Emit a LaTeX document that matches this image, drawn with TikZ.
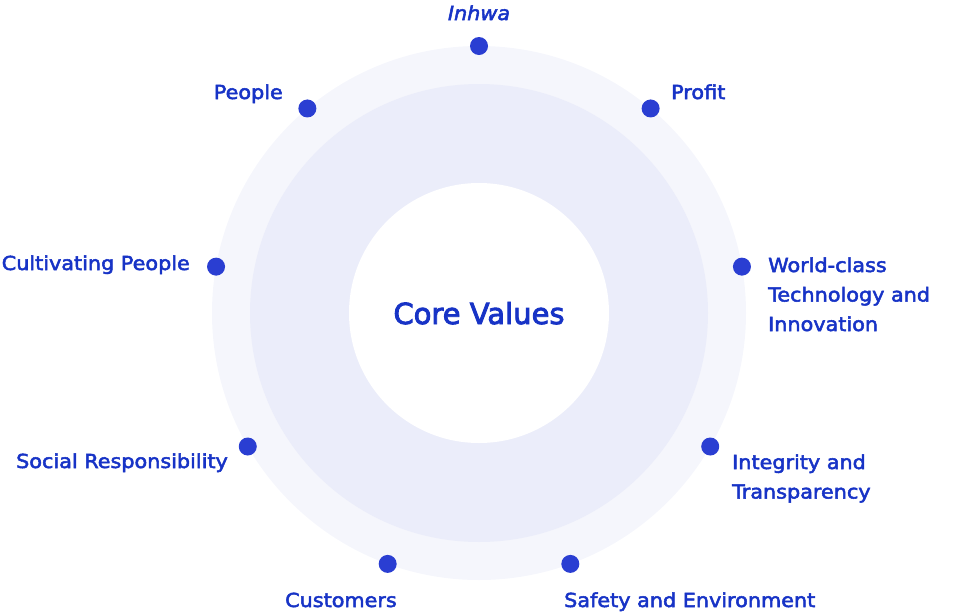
\documentclass[tikz,border=0pt]{standalone}
\usepackage{fontspec}
\setmainfont{DejaVu Sans}[FakeStretch=1.075,FakeBold=2.6]
\newfontfamily\titlefont{DejaVu Sans}[FakeBold=3]
\definecolor{txtblue}{HTML}{1733C6}
\definecolor{dotblue}{HTML}{2A3ED2}
\definecolor{ringout}{HTML}{F5F6FC}
\definecolor{ringin}{HTML}{EBEDFA}
\newcommand{\stacklines}[1]{\vtop{\baselineskip=29.5pt\lineskiplimit=-20pt #1}}
\tikzset{
  dotmark/.style={circle,fill=dotblue,inner sep=0pt,minimum size=18pt},
  lbl/.style={inner sep=0pt,text=txtblue,font=\fontsize{19.3}{23}\selectfont},
}
\begin{document}
\begin{tikzpicture}[x=1pt,y=-1pt]
\useasboundingbox (0,0) rectangle (962,614);
\fill[ringout] (479,313) circle[radius=267];
\fill[ringin] (479,313) circle[radius=229];
\fill[white] (479,313) circle[radius=130];
\node[inner sep=0pt,text=txtblue,font=\titlefont\fontsize{29}{34}\selectfont,anchor=base] (core) at (479,324) {Core Values};
\foreach \a/\n in {0/d0,40/d1,80/d2,120/d3,160/d4,200/d5,240/d6,280/d7,320/d8}
  \node[dotmark] (\n) at ({479+267*sin(\a)},{313-267*cos(\a)}) {};
\node[lbl,anchor=base] (l0) at (479,20) {\itshape Inhwa};
\node[lbl,anchor=base west] (l1) at (671,99) {Profit};
\node[lbl,anchor=base west] (l2) at (768,272) {\stacklines{\hbox{World-class}\hbox{Technology and}\hbox{Innovation}}};
\node[lbl,anchor=base west] (l3) at (732,469) {\stacklines{\hbox{Integrity and}\hbox{Transparency}}};
\node[lbl,anchor=base west] (l4) at (564,607) {Safety and Environment};
\node[lbl,anchor=base west] (l5) at (285,607) {Customers};
\node[lbl,anchor=base east] (l6) at (228,468) {Social Responsibility};
\node[lbl,anchor=base east] (l7) at (190,270) {Cultivating People};
\node[lbl,anchor=base east] (l8) at (283,99) {People};
\end{tikzpicture}
\end{document}
